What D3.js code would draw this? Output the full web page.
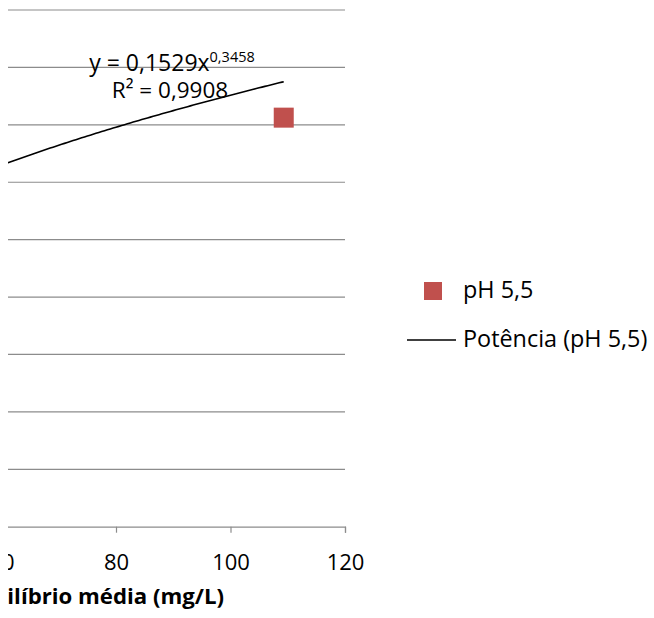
<!DOCTYPE html>
<html>
<head>
<meta charset="utf-8">
<script src="https://cdn.jsdelivr.net/npm/d3@7"></script>
<style>
  body { margin: 0; background: #fff; }
  svg { display: block; font-family: "Open Sans", sans-serif; }
</style>
</head>
<body>
<svg id="chart" width="654" height="618"></svg>
<script>
// observed point (only one is visible in the view)
const pointX = [109.3];
const pointY = [0.7125];
const seriesName = "pH 5,5";
const trendName = "Potência (pH 5,5)";
// power trendline y = a * x^b, as printed on the chart
const trendA = 0.1529;
const trendB = 0.3458;
const trendRange = [40, 109.3];
const xTicks = [0, 20, 40, 60, 80, 100, 120];
const yTicks = [0, 0.1, 0.2, 0.3, 0.4, 0.5, 0.6, 0.7, 0.8, 0.9];

document.addEventListener('DOMContentLoaded', function () {
    drawChart();
});

function drawChart() {
    const svg = d3.select('#chart');

    // plot area runs off the left side of the picture
    const right = 345, top = 10, bottom = 526.7;
    const left = right - 6 * 114.5;

    const xScale = d3.scaleLinear().domain([0, 120]).range([left, right]);
    const yScale = d3.scaleLinear().domain([0, 0.9]).range([bottom, top]);

    const g = svg.append('g');

    // gridlines
    g.selectAll('line.grid')
        .data(yTicks.slice(1))
        .enter()
        .append('line')
        .attr('class', 'grid')
        .attr('x1', left).attr('x2', right)
        .attr('y1', d => yScale(d)).attr('y2', d => yScale(d))
        .attr('stroke', '#8c8c8c')
        .attr('stroke-width', 1.2);

    // x axis
    const xAxis = d3.axisBottom(xScale)
        .tickValues(xTicks)
        .tickSize(6)
        .tickFormat(d3.format('d'));
    const ax = g.append('g')
        .attr('transform', `translate(0,${bottom})`)
        .call(xAxis);
    ax.select('.domain').attr('stroke', '#8c8c8c').attr('stroke-width', 1.2);
    ax.selectAll('.tick line').attr('stroke', '#8c8c8c').attr('stroke-width', 1.2);
    ax.selectAll('.tick text')
        .attr('y', 43.3)
        .attr('dy', '0')
        .style('font-size', '22px')
        .style('font-family', '"Open Sans", sans-serif')
        .attr('fill', '#000');

    // trendline
    const trendData = d3.range(trendRange[0], trendRange[1] + 0.01, 0.5)
        .map(x => ({ x: x, y: trendA * Math.pow(x, trendB) }));
    trendData.push({ x: trendRange[1], y: trendA * Math.pow(trendRange[1], trendB) });
    const line = d3.line().x(d => xScale(d.x)).y(d => yScale(d.y));
    g.append('path')
        .datum(trendData)
        .attr('d', line)
        .attr('fill', 'none')
        .attr('stroke', '#000')
        .attr('stroke-width', 1.6);

    // points
    g.selectAll('rect.pt')
        .data(pointX.map((x, i) => ({ x: x, y: pointY[i] })))
        .enter()
        .append('rect')
        .attr('class', 'pt')
        .attr('x', d => xScale(d.x) - 10)
        .attr('y', d => yScale(d.y) - 10)
        .attr('width', 20)
        .attr('height', 20)
        .attr('fill', '#C0504D');

    // trendline label
    const eq = svg.append('text')
        .attr('x', 172)
        .attr('y', 71)
        .attr('text-anchor', 'middle')
        .style('font-size', '23px');
    eq.append('tspan').text('y = 0,1529x');
    eq.append('tspan').attr('dy', -9).style('font-size', '14.5px').text('0,3458');
    svg.append('text')
        .attr('x', 170)
        .attr('y', 97.5)
        .attr('text-anchor', 'middle')
        .style('font-size', '22.5px')
        .text('R² = 0,9908');

    // x axis title (cut off at the left)
    svg.append('text')
        .attr('x', 224)
        .attr('y', 604)
        .attr('text-anchor', 'end')
        .style('font-size', '22.2px')
        .style('font-weight', 'bold')
        .text('Concentração de equilíbrio média (mg/L)');

    // white strip at the left edge
    svg.append('rect')
        .attr('x', 0).attr('y', 0)
        .attr('width', 8).attr('height', 618)
        .attr('fill', '#fff');

    // legend
    const legend = svg.append('g');
    legend.append('rect')
        .attr('x', 424).attr('y', 282)
        .attr('width', 18).attr('height', 18)
        .attr('fill', '#C0504D');
    legend.append('text')
        .attr('x', 463).attr('y', 298)
        .style('font-size', '23.4px')
        .text(seriesName);
    legend.append('line')
        .attr('x1', 407).attr('x2', 456)
        .attr('y1', 340).attr('y2', 340)
        .attr('stroke', '#000')
        .attr('stroke-width', 1.6);
    legend.append('text')
        .attr('x', 463).attr('y', 347)
        .style('font-size', '23.4px')
        .text(trendName);
}
</script>
</body>
</html>
